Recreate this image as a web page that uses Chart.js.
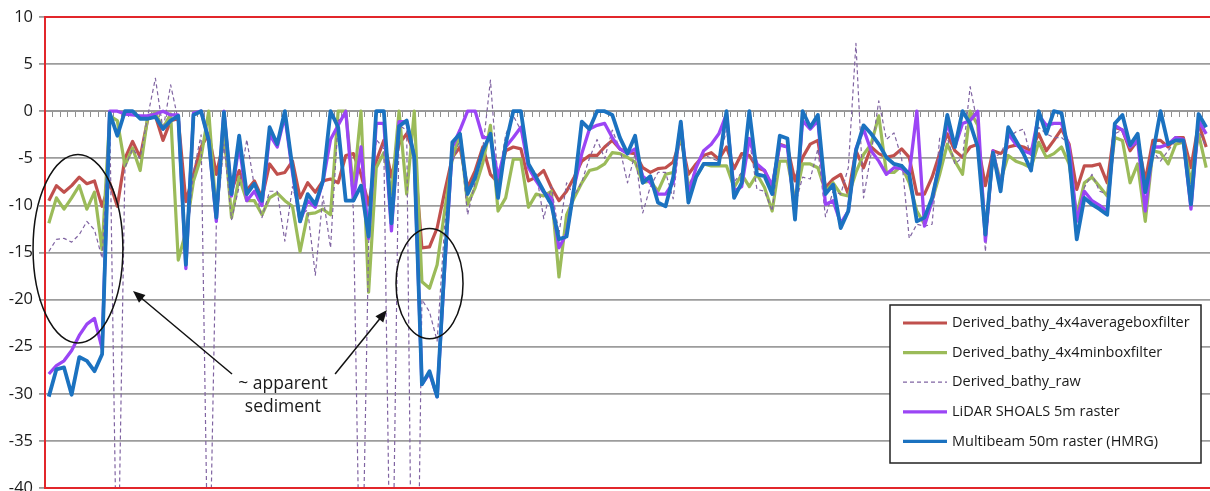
<!DOCTYPE html>
<html>
<head>
<meta charset="utf-8">
<title>Bathymetry profile comparison</title>
<script src="https://cdn.jsdelivr.net/npm/chart.js@4.4.1/dist/chart.umd.min.js"></script>
<style>
  html, body { margin: 0; padding: 0; background: #ffffff; overflow: hidden; }
  #wrap { width: 1210px; height: 491px; position: relative; }
</style>
</head>
<body>
<div id="wrap"><canvas id="profile" width="1210" height="491"></canvas></div>
<script>
// Sample stations along the profile (one per category)
const stations = Array.from({ length: 153 }, (_, i) => i + 1);

// Depth axis ticks (m)
const depthTicks = [10, 5, 0, -5, -10, -15, -20, -25, -30, -35, -40];

// Derived bathymetry, 4x4 average box filter
const avgBoxFilter = [
  -9.5,-7.9,-8.6,-7.9,-7.0,-7.7,-7.4,-10.1,-7.6,-10.1,
  -5.0,-3.2,-4.9,-0.8,-0.5,-3.1,-1.0,-0.8,-9.6,-6.7,
  -3.8,-2.4,-6.7,-3.1,-8.4,-6.3,-8.4,-7.4,-9.2,-5.6,
  -6.7,-6.5,-5.3,-9.2,-7.6,-8.6,-7.4,-7.2,-7.6,-4.7,
  -4.5,-6.7,-9.9,-5.3,-3.1,-7.0,-3.5,-2.4,-4.5,-14.5,
  -14.4,-12.4,-8.5,-4.9,-3.8,-8.1,-6.3,-3.8,-6.7,-7.6,
  -4.2,-3.8,-4.0,-7.4,-7.0,-6.3,-8.1,-9.5,-8.5,-7.0,
  -5.3,-4.7,-4.7,-3.8,-3.1,-4.0,-4.4,-4.5,-6.0,-6.5,
  -6.1,-6.0,-5.4,-2.9,-6.7,-5.6,-4.7,-4.4,-5.1,-3.8,
  -6.1,-4.5,-4.7,-6.0,-6.3,-8.1,-3.5,-3.8,-7.4,-4.9,
  -3.5,-3.1,-8.1,-7.2,-6.7,-8.8,-4.2,-6.0,-3.8,-4.5,
  -4.9,-4.7,-4.0,-4.9,-8.8,-8.8,-7.0,-4.5,-2.4,-4.2,
  -4.9,-3.8,-3.5,-7.9,-4.2,-4.5,-3.8,-3.6,-3.8,-4.2,
  -2.4,-4.2,-3.1,-1.9,-3.5,-8.3,-5.8,-5.8,-5.6,-7.6,
  -1.7,-2.0,-4.2,-3.1,-7.4,-3.1,-3.1,-3.8,-2.8,-2.8,
  -6.0,-1.3,-3.8
];

// Derived bathymetry, 4x4 minimum box filter
const minBoxFilter = [
  -11.9,-9.2,-10.4,-9.2,-7.9,-10.4,-8.6,-14.7,-0.5,-1.0,
  -5.8,-3.9,-6.3,-0.5,-0.2,-1.8,-0.3,-15.8,-12.8,-7.4,
  -4.9,0,-11.0,-1.7,-11.3,-7.0,-9.5,-9.5,-11.0,-9.2,
  -8.7,-9.5,-10.1,-14.9,-10.9,-10.8,-10.4,-11.0,0,0,
  -8.3,0,-19.2,-6.0,-4.4,-8.8,0,-8.8,0,-18.1,
  -18.8,-16.3,-10.5,-5.0,-2.4,-9.9,-8.1,-5.5,-1.5,-10.6,
  -9.2,-5.1,-5.1,-10.2,-8.8,-9.0,-8.5,-17.6,-11.0,-9.2,
  -7.6,-6.3,-6.1,-5.6,-4.4,-4.5,-4.9,-5.4,-7.6,-7.4,
  -8.5,-6.7,-6.5,-2.4,-7.9,-7.0,-5.6,-5.8,-5.8,-5.8,
  -8.1,-6.7,-8.0,-6.7,-8.1,-10.6,-5.3,-5.3,-9.5,-5.6,
  -5.6,-6.0,-8.5,-7.6,-8.8,-9.0,-6.5,-4.6,-3.5,-0.5,
  -6.5,-6.5,-5.8,-7.6,-10.6,-12.0,-9.5,-6.7,-3.5,-5.3,
  -6.7,0,-1.5,-13.1,-4.5,-7.4,-4.7,-5.3,-5.6,-6.0,
  -3.3,-4.9,-4.5,-3.8,-5.6,-11.0,-7.6,-7.0,-8.0,-9.0,
  -2.8,-3.1,-7.6,-5.6,-11.7,-4.2,-4.4,-5.6,-3.5,-3.3,
  -7.6,-2.4,-6.0
];

// Derived bathymetry, unfiltered (deep outliers run off the bottom of the axis)
const rawBathy = [
  -14.9,-13.6,-13.5,-13.9,-13.1,-11.7,-12.6,-15.6,-0.5,-54,
  -6,-4,-5,-0.5,3.5,-2,2.8,-1,-15,-6.5,
  -2.5,-55,-12,-3.5,-11.5,-8,-3,-8,-11.3,-8.5,
  -8.5,-13.8,-8,-11,-10.5,-17.4,-9,-14.5,-1,-0.5,
  -10.5,-58,-14,-3,-4,-60,-1.5,-2,-80,-20,
  -21.3,-24.4,-12,-5.5,-3,-11,-7.5,-4,3.3,-7.5,
  -2.5,-0.5,-2,-6,-6.5,-11.4,-8,-13,-7.6,-9,
  -7.5,-5,-3,-5,-2,-4,-7.6,-4.5,-10.8,-8,
  -6.5,-6.5,-9.3,-2,-8,-6,-4.6,-5,-5.3,-2,
  -7.5,-6.5,-3,-8.3,-8.5,-10.6,-3.5,-3.8,-10,-7,
  -7.2,-4,-11.2,-8.5,-8.8,-6,7.2,-9.2,-4.5,1.1,
  -3,-2.3,-5,-13.5,-12,-12.2,-12,-2.8,-2.8,-5.6,
  -4.9,2.6,-1.5,-14.9,-4.9,-4.5,-2.8,-2.2,-1.9,-4.9,
  -1.7,-2.4,-2.8,-2.8,-3.5,-11.2,-8.1,-6.7,-8.5,-8.8,
  -2.4,-2.0,-3.8,-3.5,-9.5,-4.2,-5.3,-4.2,-3.1,-3.5,
  -8.8,-2.0,-3.8
];

// LiDAR SHOALS 5 m raster
const lidarShoals = [
  -27.9,-27.0,-26.5,-25.4,-23.8,-22.6,-22.0,-25.2,0,0,
  -0.3,-0.4,-0.5,-0.5,-0.3,0,-0.4,-0.4,-16.7,-0.2,
  0,-3.0,-11.7,0,-9.0,-3.5,-9.5,-8.5,-10.0,-2.5,
  -3.8,-0.5,-6.5,-11.7,-9.5,-10.2,-7.5,-3.0,-1.5,0,
  -9.5,-3.8,-13.5,-1.3,-1.3,-12.7,-1.1,-1.1,-4.9,-29.0,
  -27.8,-30.3,-16.5,-3.8,-2.0,0,0,-2.8,-2.8,-7.0,
  -3.8,-2.8,-1.7,-6.0,-7.4,-8.6,-9.2,-14.5,-13.0,-8.0,
  -4.5,-1.9,-1.5,-1.3,-2.8,-4.0,-4.5,-4.0,-6.9,-7.6,
  -8.8,-8.8,-7.6,-1.3,-8.8,-6.0,-4.2,-3.5,-2.4,-0.3,
  -8.5,-8.0,-2.9,-5.6,-6.3,-7.9,-3.6,-3.8,-10.9,-1.0,
  -1.9,-1.0,-9.9,-9.5,-11.9,-10.6,-4.0,-1.9,-4.2,-5.3,
  -6.7,-6.0,-6.1,-6.7,0,-12.2,-9.5,-5.2,-1.3,-3.8,
  -1.3,-1.0,0,-13.8,-4.2,-8.1,-2.4,-3.5,-4.2,-4.5,
  -0.4,-1.5,-1.3,-1.3,-3.8,-11.7,-8.5,-9.5,-10.0,-10.6,
  -1.5,-2.0,-3.8,-3.1,-10.6,-3.8,-3.8,-3.5,-2.8,-3.0,
  -10.4,-1.0,-2.4
];

// Multibeam 50 m raster (HMRG)
const multibeamHmrg = [
  -30.3,-27.4,-27.2,-30.1,-26.1,-26.5,-27.6,-25.8,-0.2,-2.6,
  0,0,-0.8,-0.8,-0.6,-1.9,-1.0,-0.5,-16.3,-0.4,
  0,-3.1,-11.3,-0.1,-8.8,-2.6,-8.8,-7.7,-9.5,-1.7,
  -3.5,0,-6.0,-11.7,-8.8,-9.9,-7.4,0,-1.7,-9.5,
  -9.5,-7.9,-13.3,0,0,-11.9,-1.6,-1.0,-4.9,-29.0,
  -27.6,-30.3,-16.0,-3.3,-2.4,-8.8,-7.0,-4.2,-2.4,-9.2,
  -3.5,0,0,-5.6,-7.0,-8.5,-9.9,-13.6,-13.3,-8.1,
  -1.1,-1.9,0,0,-0.4,-2.8,-4.5,-2.6,-7.6,-6.9,
  -9.7,-10.1,-7.0,-1.1,-9.7,-7.0,-5.6,-5.6,-5.6,0,
  -9.2,-7.6,0,-6.7,-6.9,-8.8,-2.6,-2.9,-11.5,0,
  -1.7,-0.4,-8.8,-7.8,-12.4,-10.6,-4.2,-1.5,-2.4,-3.5,
  -4.9,-5.6,-5.8,-6.7,-11.7,-11.3,-9.2,-5.6,-0.4,-3.8,
  0,-1.3,-3.8,-13.1,-4.4,-8.5,-1.7,-3.1,-4.5,-6.3,
  0,-2.4,0,-0.2,-4.9,-13.6,-9.2,-9.9,-10.4,-11.0,
  -1.3,-0.4,-3.6,-2.4,-8.6,-4.5,0,-3.5,-3.1,-3.1,
  -9.9,-0.3,-1.7
];

const seriesNames = [
  'Derived_bathy_4x4averageboxfilter',
  'Derived_bathy_4x4minboxfilter',
  'Derived_bathy_raw',
  'LiDAR SHOALS 5m raster',
  'Multibeam 50m raster (HMRG)'
];

// Callouts, placed in data units (station index, depth)
const callouts = {
  ellipses: [
    { x: 3.83, y: -14.6, rx: 5.9, ry: 10.0 },
    { x: 50.0, y: -18.3, rx: 4.4, ry: 5.85 }
  ],
  arrows: [
    { from: [24.06, -27.9], to: [11.06, -19.1] },
    { from: [37.6, -27.9], to: [44.4, -21.1] }
  ],
  label: { x: 30.75, lines: [['~ apparent', -29.0], ['sediment', -31.4]] }
};

const FONT = "'Open Sans', 'DejaVu Sans', sans-serif";
Chart.defaults.font.family = FONT;

function line(label, data, color, width, order, dash) {
  return {
    label, data, order,
    borderColor: color,
    backgroundColor: color,
    borderWidth: width,
    borderDash: dash || [],
    pointRadius: 0,
    pointHoverRadius: 0,
    tension: 0,
    fill: false,
    borderJoinStyle: 'round',
    borderCapStyle: 'butt'
  };
}

const decorations = {
  id: 'decorations',
  afterDraw(chart) {
    const { ctx, chartArea: a, scales: { x, y } } = chart;
    const px = v => x.getPixelForValue(v);
    const py = v => y.getPixelForValue(v);
    ctx.save();

    // red plot frame (left, top, bottom)
    ctx.strokeStyle = '#e2262b';
    ctx.lineWidth = 2;
    ctx.beginPath();
    ctx.moveTo(a.right + 2, a.top);
    ctx.lineTo(a.left, a.top);
    ctx.lineTo(a.left, a.bottom);
    ctx.lineTo(a.right + 2, a.bottom);
    ctx.stroke();

    // callout ellipses
    ctx.strokeStyle = '#111';
    ctx.lineWidth = 1.5;
    callouts.ellipses.forEach(e => {
      const cx = px(e.x), cy = py(e.y);
      const rx = Math.abs(px(e.x + e.rx) - cx);
      const ry = Math.abs(py(e.y - e.ry) - cy);
      ctx.beginPath();
      ctx.ellipse(cx, cy, rx, ry, 0, 0, Math.PI * 2);
      ctx.stroke();
    });

    // callout arrows
    callouts.arrows.forEach(ar => {
      const x1 = px(ar.from[0]), y1 = py(ar.from[1]);
      const x2 = px(ar.to[0]), y2 = py(ar.to[1]);
      const ang = Math.atan2(y2 - y1, x2 - x1);
      const head = 12, half = 5;
      ctx.beginPath();
      ctx.moveTo(x1, y1);
      ctx.lineTo(x2 - Math.cos(ang) * head * 0.8, y2 - Math.sin(ang) * head * 0.8);
      ctx.stroke();
      ctx.beginPath();
      ctx.moveTo(x2, y2);
      ctx.lineTo(x2 - Math.cos(ang) * head + Math.sin(ang) * half, y2 - Math.sin(ang) * head - Math.cos(ang) * half);
      ctx.lineTo(x2 - Math.cos(ang) * head - Math.sin(ang) * half, y2 - Math.sin(ang) * head + Math.cos(ang) * half);
      ctx.closePath();
      ctx.fillStyle = '#111';
      ctx.fill();
    });

    // callout text
    ctx.fillStyle = '#1a1a1a';
    ctx.font = '17.5px ' + FONT;
    ctx.textAlign = 'center';
    ctx.textBaseline = 'middle';
    callouts.label.lines.forEach(([t, v]) => ctx.fillText(t, px(callouts.label.x), py(v)));

    // legend box
    const box = { x: a.right - 320, y: a.top + 288, w: 311, h: 158 };
    ctx.fillStyle = '#ffffff';
    ctx.fillRect(box.x, box.y, box.w, box.h);
    ctx.strokeStyle = '#222';
    ctx.lineWidth = 1.5;
    ctx.strokeRect(box.x, box.y, box.w, box.h);
    ctx.font = '14.5px ' + FONT;
    ctx.textAlign = 'left';
    ctx.textBaseline = 'middle';
    chart.data.datasets.forEach((ds, i) => {
      const ry = box.y + 18 + i * 29.6;
      ctx.strokeStyle = ds.borderColor;
      ctx.lineWidth = ds.borderDash.length ? 1.2 : 3.2;
      ctx.setLineDash(ds.borderDash);
      ctx.beginPath();
      ctx.moveTo(box.x + 13, ry);
      ctx.lineTo(box.x + 57, ry);
      ctx.stroke();
      ctx.setLineDash([]);
      ctx.fillStyle = '#1a1a1a';
      ctx.fillText(ds.label, box.x + 62, ry);
    });
    ctx.restore();
  }
};

new Chart(document.getElementById('profile'), {
  type: 'line',
  data: {
    labels: stations,
    datasets: [
      line(seriesNames[0], avgBoxFilter, '#c0504d', 3.2, 5),
      line(seriesNames[1], minBoxFilter, '#9bbb59', 3.2, 4),
      line(seriesNames[2], rawBathy, '#8064a2', 1.2, 3, [4, 3]),
      line(seriesNames[3], lidarShoals, '#9b45f5', 3.3, 2),
      line(seriesNames[4], multibeamHmrg, '#1b72c0', 3.8, 1)
    ]
  },
  options: {
    responsive: false,
    animation: false,
    devicePixelRatio: 1,
    events: [],
    layout: { padding: { top: 17, bottom: 3, left: 0, right: 0 } },
    plugins: { legend: { display: false }, tooltip: { enabled: false } },
    scales: {
      x: {
        type: 'category',
        position: { y: 0 },
        offset: true,
        ticks: { display: false },
        grid: {
          display: true, drawOnChartArea: false, drawTicks: true,
          tickLength: 5, offset: true, color: '#8f8f8f', lineWidth: 1
        },
        border: { display: true, color: '#989898', width: 2 }
      },
      y: {
        min: -40, max: 10,
        afterBuildTicks: s => { s.ticks = depthTicks.map(v => ({ value: v })); },
        afterFit: s => { s.width = 45; s.paddingTop = 0; s.paddingBottom = 0; },
        ticks: { font: { size: 16.5, family: FONT }, color: '#1a1a1a', padding: 6 },
        grid: { color: '#9c9c9c', lineWidth: 1.8, drawTicks: true, tickLength: 6 },
        border: { display: false }
      }
    }
  },
  plugins: [decorations]
});
</script>
</body>
</html>
